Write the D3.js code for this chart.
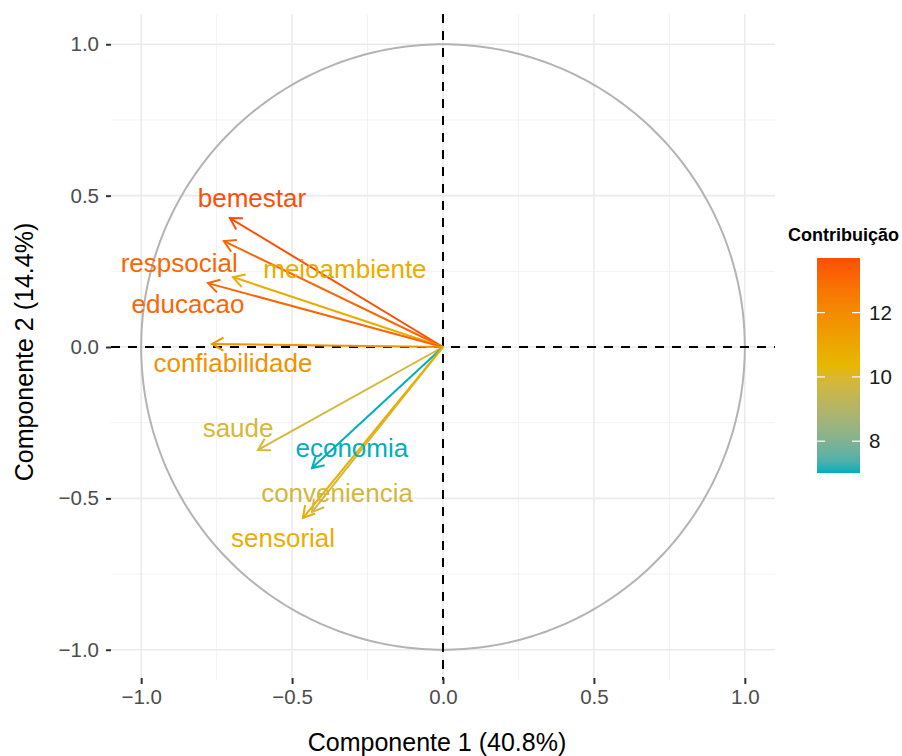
<!DOCTYPE html>
<html>

<head>
  <title>PCA variaveis</title>
  <script src="https://cdn.jsdelivr.net/npm/d3@7"></script>
  <style type="text/css">
    body {
      margin: 0;
      background: #fff;
    }

    text {
      font-family: "Liberation Sans", Arial, Helvetica, sans-serif;
    }
  </style>
</head>

<body>
  <div id="chartArea"></div>
  <script type="text/javascript">
    // variables and their coordinates on components 1 and 2
    let variables = ['bemestar', 'respsocial', 'meioambiente', 'educacao', 'confiabilidade',
      'saude', 'economia', 'conveniencia', 'sensorial'];
    let dim1 = [-0.706, -0.726, -0.696, -0.779, -0.765, -0.613, -0.434, -0.434, -0.464];
    let dim2 = [0.426, 0.350, 0.231, 0.211, 0.010, -0.340, -0.400, -0.545, -0.565];
    let contrib = [13.70, 13.10, 10.84, 13.12, 11.79, 9.90, 7.01, 9.77, 10.76];
    // label anchor points (after repel), in data units
    let labelX = [-0.633, -0.874, -0.325, -0.845, -0.696, -0.679, -0.302, -0.351, -0.530];
    let labelY = [0.492, 0.277, 0.258, 0.142, -0.053, -0.268, -0.333, -0.482, -0.631];

    let axisTicks = [-1.0, -0.5, 0.0, 0.5, 1.0];
    let minorTicks = [-0.75, -0.25, 0.25, 0.75];
    let legendTicks = [8, 10, 12];
    let gradientCols = ['#00AFBB', '#E7B800', '#FC4E07'];

    let W = 902, H = 756;

    let x = d3.scaleLinear().domain([-1.1, 1.1]).range([111, 775]);
    let y = d3.scaleLinear().domain([-1.1, 1.1]).range([680, 14]);

    let cMin = d3.min(contrib), cMax = d3.max(contrib);
    let colorScale = d3.scaleLinear()
      .domain([cMin, (cMin + cMax) / 2, cMax])
      .range(gradientCols)
      .interpolate(d3.interpolateLab);

    let svg = d3.select('#chartArea').append('svg')
      .attr('width', W)
      .attr('height', H);

    // grid
    let grid = svg.append('g');
    grid.selectAll('.vminor').data(minorTicks).enter().append('line')
      .attr('x1', d => x(d)).attr('x2', d => x(d))
      .attr('y1', y.range()[0]).attr('y2', y.range()[1])
      .attr('stroke', '#F2F2F2').attr('stroke-width', 1);
    grid.selectAll('.hminor').data(minorTicks).enter().append('line')
      .attr('y1', d => y(d)).attr('y2', d => y(d))
      .attr('x1', x.range()[0]).attr('x2', x.range()[1])
      .attr('stroke', '#F2F2F2').attr('stroke-width', 1);
    grid.selectAll('.vmajor').data(axisTicks).enter().append('line')
      .attr('x1', d => x(d)).attr('x2', d => x(d))
      .attr('y1', y.range()[0]).attr('y2', y.range()[1])
      .attr('stroke', '#EBEBEB').attr('stroke-width', 1.6);
    grid.selectAll('.hmajor').data(axisTicks).enter().append('line')
      .attr('y1', d => y(d)).attr('y2', d => y(d))
      .attr('x1', x.range()[0]).attr('x2', x.range()[1])
      .attr('stroke', '#EBEBEB').attr('stroke-width', 1.6);

    // correlation circle
    let circle = d3.range(0, 361).map(a => [Math.cos(a * Math.PI / 180), Math.sin(a * Math.PI / 180)]);
    svg.append('path')
      .attr('d', d3.line().x(d => x(d[0])).y(d => y(d[1]))(circle))
      .attr('fill', 'none')
      .attr('stroke', '#B3B3B3')
      .attr('stroke-width', 2);

    // dashed zero lines
    svg.append('line')
      .attr('x1', x.range()[0]).attr('x2', x.range()[1])
      .attr('y1', y(0)).attr('y2', y(0))
      .attr('stroke', '#000').attr('stroke-width', 2).attr('stroke-dasharray', '9,8');
    svg.append('line')
      .attr('x1', x(0)).attr('x2', x(0))
      .attr('y1', y.range()[1]).attr('y2', y.range()[0])
      .attr('stroke', '#000').attr('stroke-width', 2).attr('stroke-dasharray', '9,8');

    // axes
    let xAxis = svg.append('g')
      .attr('transform', `translate(0, ${y.range()[0] - 2})`)
      .call(d3.axisBottom(x).tickValues(axisTicks).tickFormat(d3.format('.1f')).tickSize(6).tickPadding(5));
    let yAxis = svg.append('g')
      .attr('transform', `translate(${x.range()[0]}, 0)`)
      .call(d3.axisLeft(y).tickValues(axisTicks).tickFormat(d3.format('.1f')).tickSize(5).tickPadding(7));
    [xAxis, yAxis].forEach(a => {
      a.select('.domain').remove();
      a.selectAll('.tick line').attr('stroke', '#333').attr('stroke-width', 2);
      a.selectAll('.tick text')
        .attr('fill', '#4D4D4D')
        .style('font-size', '20.5px')
        .style('font-family', '"Liberation Sans", Arial, sans-serif');
    });

    // arrows
    let idx = d3.range(variables.length);
    let headLen = 13, headAng = Math.PI / 6;
    let arrows = svg.append('g');
    arrows.selectAll('line').data(idx).enter().append('line')
      .attr('x1', x(0)).attr('y1', y(0))
      .attr('x2', i => x(dim1[i])).attr('y2', i => y(dim2[i]))
      .attr('stroke', i => colorScale(contrib[i]))
      .attr('stroke-width', 2);
    arrows.selectAll('path').data(idx).enter().append('path')
      .attr('d', i => {
        let tx = x(dim1[i]), ty = y(dim2[i]);
        let a = Math.atan2(ty - y(0), tx - x(0));
        let p1 = [tx - headLen * Math.cos(a - headAng), ty - headLen * Math.sin(a - headAng)];
        let p2 = [tx - headLen * Math.cos(a + headAng), ty - headLen * Math.sin(a + headAng)];
        return `M${p1[0]},${p1[1]}L${tx},${ty}L${p2[0]},${p2[1]}`;
      })
      .attr('fill', 'none')
      .attr('stroke', i => colorScale(contrib[i]))
      .attr('stroke-width', 2);

    // labels
    svg.append('g').selectAll('text').data(idx).enter().append('text')
      .attr('x', i => x(labelX[i]))
      .attr('y', i => y(labelY[i]))
      .attr('dy', '0.35em')
      .attr('text-anchor', 'middle')
      .attr('fill', i => colorScale(contrib[i]))
      .style('font-size', '26px')
      .text(i => variables[i]);

    // axis titles
    svg.append('text')
      .attr('x', 437).attr('y', 751)
      .attr('text-anchor', 'middle')
      .attr('fill', '#000')
      .style('font-size', '25px')
      .text('Componente 1 (40.8%)');
    svg.append('text')
      .attr('transform', 'translate(33, 352) rotate(-90)')
      .attr('text-anchor', 'middle')
      .attr('fill', '#000')
      .style('font-size', '25px')
      .text('Componente 2 (14.4%)');

    // colour legend
    let legY = d3.scaleLinear().domain([cMin, cMax]).range([473, 258]);
    let barX = 817, barW = 43;
    let grad = svg.append('defs').append('linearGradient')
      .attr('id', 'contribGrad')
      .attr('x1', 0).attr('y1', 1).attr('x2', 0).attr('y2', 0);
    grad.selectAll('stop').data(d3.range(0, 1.0001, 0.05)).enter().append('stop')
      .attr('offset', d => d)
      .attr('stop-color', d => colorScale(cMin + d * (cMax - cMin)));
    svg.append('rect')
      .attr('x', barX).attr('y', legY(cMax))
      .attr('width', barW).attr('height', legY(cMin) - legY(cMax))
      .attr('fill', 'url(#contribGrad)');
    let lt = svg.append('g');
    lt.selectAll('.tl').data(legendTicks).enter().append('line')
      .attr('x1', barX).attr('x2', barX + 8)
      .attr('y1', d => legY(d)).attr('y2', d => legY(d))
      .attr('stroke', '#fff').attr('stroke-width', 1.2);
    lt.selectAll('.tr').data(legendTicks).enter().append('line')
      .attr('x1', barX + barW - 8).attr('x2', barX + barW)
      .attr('y1', d => legY(d)).attr('y2', d => legY(d))
      .attr('stroke', '#fff').attr('stroke-width', 1.2);
    lt.selectAll('text').data(legendTicks).enter().append('text')
      .attr('x', barX + barW + 9)
      .attr('y', d => legY(d))
      .attr('dy', '0.35em')
      .attr('fill', '#1A1A1A')
      .style('font-size', '20.5px')
      .text(d => d);
    svg.append('text')
      .attr('x', 788).attr('y', 241)
      .attr('fill', '#000')
      .style('font-size', '18px')
      .style('font-weight', 'bold')
      .text('Contribuição');
  </script>
</body>

</html>
